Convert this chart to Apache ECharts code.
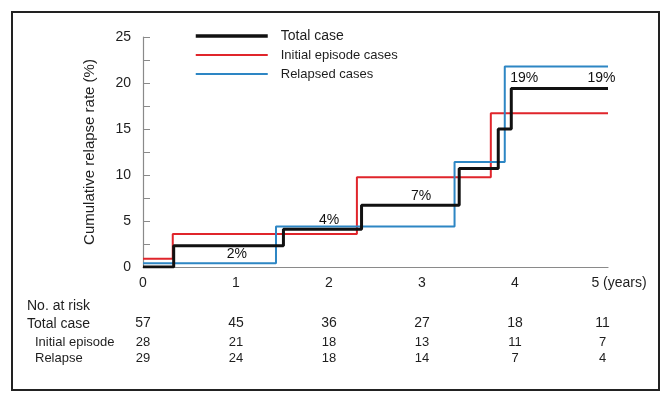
<!DOCTYPE html>
<html>
<head>
<meta charset="utf-8">
<script src="https://cdn.jsdelivr.net/npm/echarts@6/dist/echarts.min.js"></script>
<style>
html,body{margin:0;padding:0;background:#fff;}
#c{width:671px;height:404px;}
</style>
</head>
<body>
<div id="c"></div>
<script>
// ---- data ----
const years = [0, 1, 2, 3, 4, 5];
const xTickLabels = ['0', '1', '2', '3', '4', '5 (years)'];
const seriesNames = ['Total case', 'Initial episode cases', 'Relapsed cases'];
// step curves: [time (years), cumulative relapse rate (%)] ; value holds until next time
const totalCase = [[0, 0], [0.33, 2.3], [1.51, 4.1], [2.35, 6.7], [3.40, 10.7], [3.82, 15.0], [3.96, 19.4], [5, 19.4]];
const initialCases = [[0, 0.9], [0.32, 3.6], [2.30, 9.75], [3.74, 16.7], [5, 16.7]];
const relapsedCases = [[0, 0.4], [1.43, 4.4], [3.35, 11.4], [3.89, 21.8], [5, 21.8]];
// annotation labels on the total curve
const annotTexts = ['2%', '4%', '7%', '19%', '19%'];
const annotPoints = [[1.01, 1.4], [2.0, 5.1], [2.99, 7.7], [4.1, 20.5], [4.93, 20.5]];
// number at risk table
const riskRowNames = ['Total case', 'Initial episode', 'Relapse'];
const riskTotal = [57, 45, 36, 27, 18, 11];
const riskInitial = [28, 21, 18, 13, 11, 7];
const riskRelapse = [29, 24, 18, 14, 7, 4];

const FONT = '"Liberation Sans", Arial, sans-serif';
const TXT = '#1e1e1e';

const chart = echarts.init(document.getElementById('c'), null, {renderer: 'canvas'});

function xLabelFmt(arr, lastStyle) {
  return function (v) {
    const i = years.indexOf(v);
    if (i < 0) return '';
    return (i === years.length - 1 ? '{' + lastStyle + '|' : '{n|') + arr[i] + '}';
  };
}

function riskAxis(arr, offset, fs) {
  return {
    type: 'value', min: 0, max: 5, interval: 1, position: 'bottom', offset: offset,
    axisLine: {show: false}, axisTick: {show: false}, splitLine: {show: false},
    axisLabel: {
      show: true, margin: 8, showMinLabel: true, showMaxLabel: true,
      formatter: xLabelFmt(arr, 'l'),
      rich: {
        n: {fontSize: fs, fontFamily: FONT, color: TXT},
        l: {fontSize: fs, fontFamily: FONT, color: TXT, padding: [0, 11, 0, 0]}
      }
    }
  };
}

const option = {
  animation: false,
  backgroundColor: '#fff',
  grid: {left: 143, right: 63, top: 37, bottom: 137, containLabel: false},
  legend: {
    orient: 'vertical', left: 194, top: 28, padding: 0, itemWidth: 72, itemHeight: 3, itemGap: 3,
    selectedMode: false,
    itemStyle: {opacity: 0},
    textStyle: {color: TXT, fontFamily: FONT, padding: [0, 0, 0, 8], lineHeight: 16},
    data: [
      {name: seriesNames[0], textStyle: {fontSize: 14}, lineStyle: {width: 3.5}},
      {name: seriesNames[1], textStyle: {fontSize: 13}, lineStyle: {width: 2}},
      {name: seriesNames[2], textStyle: {fontSize: 13}, lineStyle: {width: 2}}
    ]
  },
  xAxis: [
    {
      type: 'value', min: 0, max: 5, interval: 1,
      axisLine: {show: true, lineStyle: {color: '#8a8a8a', width: 1.2}},
      axisTick: {show: false}, splitLine: {show: false},
      axisLabel: {
        margin: 9, showMinLabel: true, showMaxLabel: true,
        formatter: xLabelFmt(xTickLabels, 'e'),
        rich: {
          n: {fontSize: 14, fontFamily: FONT, color: TXT},
          e: {fontSize: 14, fontFamily: FONT, color: TXT, padding: [0, 0, 0, 22]}
        }
      }
    },
    riskAxis(riskTotal, 41, 14),
    riskAxis(riskInitial, 61, 13),
    riskAxis(riskRelapse, 77, 13)
  ],
  yAxis: {
    type: 'value', min: 0, max: 25, interval: 5,
    name: 'Cumulative relapse rate (%)', nameLocation: 'middle', nameGap: 46,
    nameTextStyle: {fontSize: 15, fontFamily: FONT, color: TXT},
    axisLine: {show: true, lineStyle: {color: '#8a8a8a', width: 1.2}},
    axisTick: {show: true, inside: true, length: 7, lineStyle: {color: '#8a8a8a'}},
    minorTick: {show: true, splitNumber: 2, length: 7, lineStyle: {color: '#8a8a8a'}},
    splitLine: {show: false},
    axisLabel: {margin: 12, fontSize: 14, fontFamily: FONT, color: TXT}
  },
  series: [
    {
      name: seriesNames[1], type: 'line', step: 'end', symbol: 'none', data: initialCases,
      color: '#e0252b', lineStyle: {color: '#e0252b', width: 2}, z: 3
    },
    {
      name: seriesNames[2], type: 'line', step: 'end', symbol: 'none', data: relapsedCases,
      color: '#2d86c4', lineStyle: {color: '#2d86c4', width: 2}, z: 4
    },
    {
      name: seriesNames[0], type: 'line', step: 'end', symbol: 'none', data: totalCase,
      color: '#111', lineStyle: {color: '#111', width: 3}, z: 5
    },
    {
      name: 'annotations', type: 'scatter', symbolSize: 0, silent: true,
      itemStyle: {color: '#000', opacity: 1},
      emphasis: {disabled: true},
      data: annotPoints.map((p, i) => ({name: annotTexts[i], value: p})),
      label: {show: true, position: 'inside', formatter: '{b}', fontSize: 14, fontFamily: FONT,
              color: '#111', opacity: 1, textBorderWidth: 0},
      z: 6
    }
  ],
  graphic: [
    {type: 'rect', shape: {x: 12, y: 12, width: 647, height: 378}, style: {fill: 'none', stroke: '#222', lineWidth: 2}, silent: true},
    {type: 'text', left: 27, top: 299, style: {text: 'No. at risk', fontSize: 14, fontFamily: FONT, fill: TXT}},
    {type: 'text', left: 27, top: 317, style: {text: riskRowNames[0], fontSize: 14, fontFamily: FONT, fill: TXT}},
    {type: 'text', left: 35, top: 336, style: {text: riskRowNames[1], fontSize: 13, fontFamily: FONT, fill: TXT}},
    {type: 'text', left: 35, top: 352, style: {text: riskRowNames[2], fontSize: 13, fontFamily: FONT, fill: TXT}}
  ]
};
chart.setOption(option);
</script>
</body>
</html>
